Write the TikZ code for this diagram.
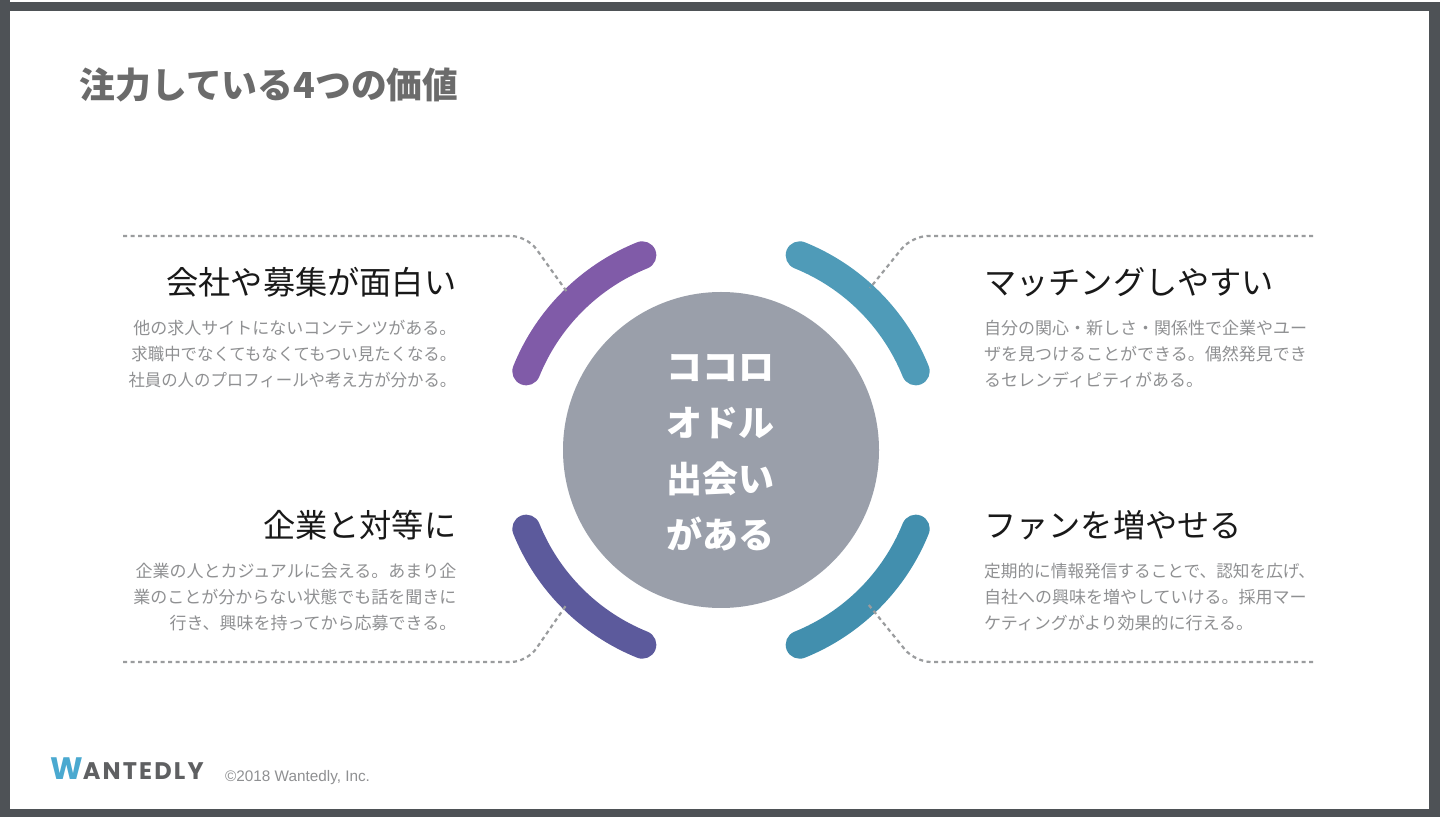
\documentclass[tikz,border=0pt]{standalone}
\usepackage{fontspec}
\setmainfont{Noto Sans CJK JP}
\newfontfamily\latinfont{Liberation Sans}
\newfontfamily\logofont{Poppins}
\newfontfamily\logowide[LetterSpace=9]{Poppins}
\usepackage{tikz}
\usetikzlibrary{positioning}
\definecolor{frame}{HTML}{4E5256}
\definecolor{titlegray}{HTML}{6B6B6B}
\definecolor{bodygray}{HTML}{8F9092}
\definecolor{hubgray}{HTML}{9A9FAA}
\definecolor{dashgray}{HTML}{9A9C9E}
\definecolor{arcpurple}{HTML}{805BA8}
\definecolor{arcindigo}{HTML}{5C5A9C}
\definecolor{arcteal}{HTML}{4F9BB8}
\definecolor{arcblue}{HTML}{428FAE}
\definecolor{logoblue}{HTML}{4AA9D0}
\definecolor{logogray}{HTML}{5F6062}
\newcommand{\snug}[1]{\scalebox{.965}[1]{#1}}
\tikzstyle{headline} = [inner sep=0pt, text=black!90, text height=26pt, text depth=6pt, font=\fontsize{32.2}{32}\selectfont]
\tikzstyle{bodyleft} = [inner sep=0pt, text=bodygray, align=right, font=\fontsize{17}{26}\selectfont]
\tikzstyle{bodyright} = [inner sep=0pt, text=bodygray, align=left, font=\fontsize{17}{26}\selectfont]
\tikzstyle{hub} = [circle, minimum size=316pt, inner sep=0pt, fill=hubgray]
\tikzstyle{hubtext} = [inner sep=0pt, text=white, align=center, font=\fontsize{36}{56}\selectfont\bfseries]
\tikzstyle{petal} = [line width=28pt, line cap=round]
\tikzstyle{leader} = [line width=2.2pt, dashgray, dash pattern=on 4pt off 3.5pt, rounded corners=16pt]

\begin{document}
\begin{tikzpicture}[x=1pt, y=1pt]
        % page
        \fill[frame] (0,0) rectangle (1440,817);
        \fill[white] (10,815) rectangle (1440,817);
        \fill[white] (10,8) rectangle (1429,806);

        \node[anchor=base west, inner sep=0pt, text=titlegray, font=\fontsize{35.8}{36}\selectfont\bfseries] (title) at (79.5,718) {注力している4つの価値};

        \node[hub] (hub) at (721,367) {};
        \node[hubtext, xshift=-1pt, yshift=-3pt] (hub text) at (hub) {ココロ\\オドル\\出会い\\がある};

        % headlines and their text
        \node[headline, anchor=base east]                              (fun)      at (456.5,522.5) {会社や募集が面白い};
        \node[bodyleft, below left=19pt and 0pt of fun.south east]     (fun text) {他の求人サイトにないコンテンツがある。\\\snug{求職中でなくてもなくてもつい見たくなる。}\\\snug{社員の人のプロフィールや考え方が分かる。}};
        \node[headline, anchor=base west]                              (match)    at (984,522.5) {マッチングしやすい};
        \node[bodyright, below right=19pt and 0pt of match.south west] (match text) {自分の関心・新しさ・関係性で企業やユー\\ザを見つけることができる。偶然発見でき\\るセレンディピティがある。};
        \node[headline, anchor=base east]                              (equal)    at (456.5,279.5) {企業と対等に};
        \node[bodyleft, below left=19pt and 0pt of equal.south east]   (equal text) {企業の人とカジュアルに会える。あまり企\\業のことが分からない状態でも話を聞きに\\行き、興味を持ってから応募できる。};
        \node[headline, anchor=base west]                              (fan)      at (984,279.5) {ファンを増やせる};
        \node[bodyright, below right=19pt and 0pt of fan.south west]   (fan text) {\scalebox{.98}[1]{定期的に情報発信することで、認知を広げ、}\\自社への興味を増やしていける。採用マー\\ケティングがより効果的に行える。};

        % footer
        \node[anchor=base west, inner sep=0pt, font=\bfseries] (logo) at (50,38) {\textcolor{logoblue}{\logofont\bfseries\fontsize{31}{31}\selectfont W}\textcolor{logogray}{\logowide\bfseries\fontsize{24}{24}\selectfont ANTEDLY}};
        \node[anchor=base west, inner sep=0pt, text=bodygray, font=\latinfont\fontsize{15.3}{15}\selectfont] (copy) at (225,36) {©2018 Wantedly, Inc.};

        % ends of the dashed lines
        \coordinate (fun far)    at (123,581);
        \coordinate (fun bend)   at (527,581);
        \coordinate (fun end)    at (567,525);
        \coordinate (match far)  at (1313,581);
        \coordinate (match bend) at (912,581);
        \coordinate (match end)  at (870,529);
        \coordinate (equal far)  at (123,155);
        \coordinate (equal bend) at (527,155);
        \coordinate (equal end)  at (567,213);
        \coordinate (fan far)    at (1313,155);
        \coordinate (fan bend)   at (915,155);
        \coordinate (fan end)    at (868,213);

        \draw[petal, arcpurple] (hub.center) ++(112:210) arc (112:158:210);
        \draw[petal, arcteal]   (hub.center) ++(68:210) arc (68:22:210);
        \draw[petal, arcindigo] (hub.center) ++(202:210) arc (202:248:210);
        \draw[petal, arcblue]   (hub.center) ++(-22:210) arc (-22:-68:210);

        \draw[leader] (fun far)   -- (fun bend)   -- (fun end);
        \draw[leader] (match far) -- (match bend) -- (match end);
        \draw[leader] (equal far) -- (equal bend) -- (equal end);
        \draw[leader] (fan far)   -- (fan bend)   -- (fan end);
    \end{tikzpicture}
\end{document}
